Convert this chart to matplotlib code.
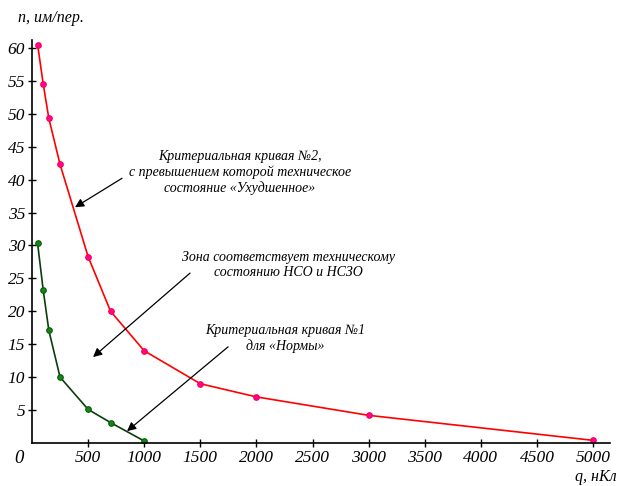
import matplotlib.pyplot as plt

# Критериальная кривая №2 (красная)
q_red = [50, 100, 150, 250, 500, 700, 1000, 1500, 2000, 3000, 5000]
n_red = [60.5, 54.5, 49.3, 42.3, 28.3, 20.0, 14.0, 9.0, 7.0, 4.2, 0.4]

# Критериальная кривая №1 (зелёная)
q_green = [50, 100, 150, 250, 500, 700, 1000]
n_green = [30.3, 23.2, 17.1, 10.0, 5.1, 3.1, 0.3]

x_ticks = [500, 1000, 1500, 2000, 2500, 3000, 3500, 4000, 4500, 5000]
y_ticks = [5, 10, 15, 20, 25, 30, 35, 40, 45, 50, 55, 60]

plt.rcParams['font.family'] = ['Liberation Serif', 'DejaVu Serif']
plt.rcParams['font.style'] = 'italic'

fig = plt.figure(figsize=(6.19, 4.86), dpi=100)
ax = fig.add_axes([32 / 619, 43 / 486, 578 / 619, 403 / 486])

ax.plot(q_red, n_red, color='#ff0000', lw=1.2, marker='o', ms=4,
        markerfacecolor='#ff00aa', markeredgecolor='#ff0033', markeredgewidth=0.8)
ax.plot(q_green, n_green, color='#0b3d0b', lw=1.2, marker='o', ms=4,
        markerfacecolor='#118811', markeredgecolor='#0b5a0b', markeredgewidth=0.8)

ax.set_xlim(0, 5150)
ax.set_ylim(0, 61.2)
ax.set_xticks(x_ticks)
ax.set_yticks(y_ticks)
ax.tick_params(direction='inout', length=6, width=1, labelsize=12.5, pad=2)
for s in ['top', 'right']:
    ax.spines[s].set_visible(False)
for s in ['left', 'bottom']:
    ax.spines[s].set_linewidth(1.2)

fig.text(14 / 619, 1 - 458 / 486, '0', fontsize=13.5, ha='left', va='center')
fig.text(18 / 619, 1 - 18 / 486, 'n, им/пер.', fontsize=11.5, ha='left', va='center')
fig.text(575 / 619, 1 - 477 / 486, 'q, нКл', fontsize=11.5, ha='left', va='center')

arrow = dict(arrowstyle='-|>', color='black', lw=0.9, mutation_scale=13,
             shrinkA=0, shrinkB=0)
ax.annotate('', xy=(383, 35.8), xytext=(802, 40.2), arrowprops=arrow)
ax.text(1854, 41.1, 'Критериальная кривая №2,\nс превышением которой техническое\nсостояние «Ухудшенное»',
        fontsize=10, ha='center', va='center', linespacing=1.2)
ax.annotate('', xy=(544, 13.05), xytext=(1408, 25.8), arrowprops=arrow)
ax.text(2282, 27.0, 'Зона соответствует техническому\nсостоянию НСО и НСЗО',
        fontsize=10, ha='center', va='center', linespacing=1.2)
ax.annotate('', xy=(847, 1.8), xytext=(1747, 14.6), arrowprops=arrow)
ax.text(2255, 15.9, 'Критериальная кривая №1\nдля «Нормы»',
        fontsize=10, ha='center', va='center', linespacing=1.2)

fig.savefig('out.png', dpi=100)
